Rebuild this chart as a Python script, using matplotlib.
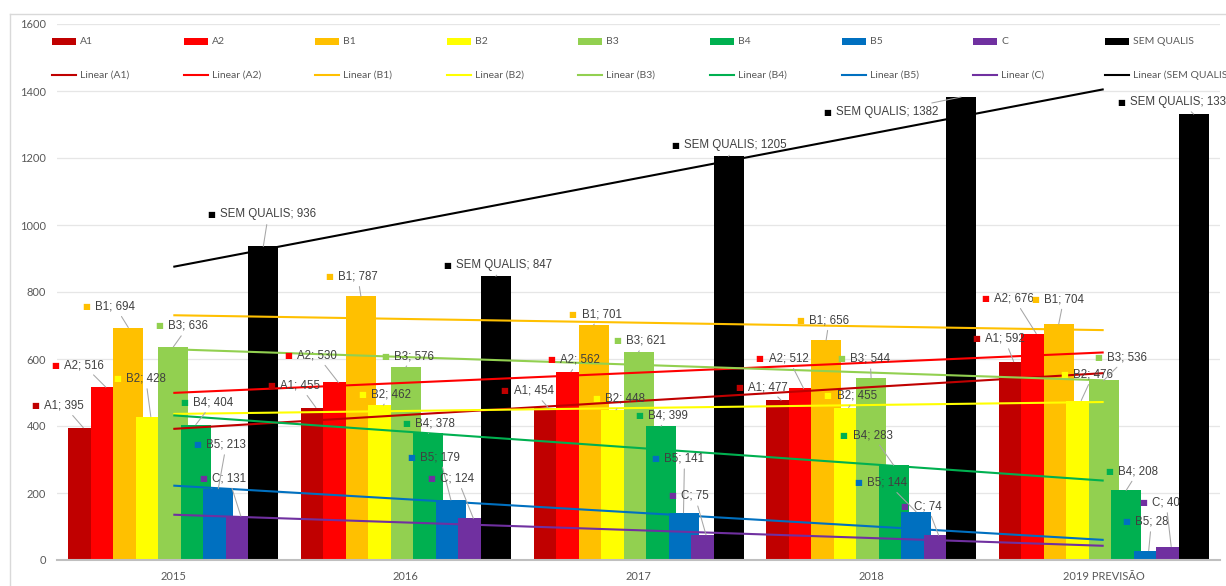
import numpy as np
import matplotlib.pyplot as plt
from matplotlib.patches import Rectangle
from matplotlib.lines import Line2D

W, H = 1226, 586

years = ['2015', '2016', '2017', '2018', '2019 PREVISÃO']
series = ['A1', 'A2', 'B1', 'B2', 'B3', 'B4', 'B5', 'C', 'SEM QUALIS']
colors = ['#C00000', '#FF0000', '#FFC000', '#FFFF00', '#92D050',
          '#00B050', '#0070C0', '#7030A0', '#000000']

a1 = [395, 455, 454, 477, 592]
a2 = [516, 530, 562, 512, 676]
b1 = [694, 787, 701, 656, 704]
b2 = [428, 462, 448, 455, 476]
b3 = [636, 576, 621, 544, 536]
b4 = [404, 378, 399, 283, 208]
b5 = [213, 179, 141, 144, 28]
c = [131, 124, 75, 74, 40]
sem_qualis = [936, 847, 1205, 1382, 1331]
values = [a1, a2, b1, b2, b3, b4, b5, c, sem_qualis]

# label offsets in pixels from bar top (dx right, dy up), per series, per year
label_off = [
    [(-48, 22), (-45, 22), (-44, 17), (-42, 13), (-38, 23)],
    [(-51, 22), (-50, 27), (-20, 12), (-44, 30), (-51, 35)],
    [(-42, 21), (-32, 20), (-21, 11), (-26, 20), (-24, 25)],
    [(-34, 38), (-21, 11), (-20, 11), (-21, 12), (-17, 26)],
    [(-14, 21), (-21, 11), (-21, 11), (-30, 19), (-6, 23)],
    [(-12, 22), (-22, 10), (-22, 11), (-50, 30), (-17, 19)],
    [(-21, 44), (-40, 43), (-28, 54), (-58, 29), (-23, 29)],
    [(-38, 38), (-42, 40), (-34, 39), (-34, 29), (-28, 44)],
    [(-52, 32), (-49, 11), (-53, 11), (-134, -15), (-73, 12)],
]

fig = plt.figure(figsize=(W / 100, H / 100), dpi=100)
ax = fig.add_axes([57 / W, 26 / H, (1220 - 57) / W, 536 / H])

x = np.arange(len(years))
bw = 30 / 232.6
step = 22.5 / 232.6

for i, (name, vals, col) in enumerate(zip(series, values, colors)):
    ax.bar(x + (i - 4) * step, vals, width=bw, color=col, zorder=2 + i * 0.01)

# linear trendlines
for i, (vals, col) in enumerate(zip(values, colors)):
    k, b = np.polyfit(x + 1, vals, 1)
    xs = np.array([0, len(years) - 1])
    ax.plot(xs, k * (xs + 1) + b, color=col, lw=1.5, zorder=3, solid_capstyle='butt')

# data labels
for i, (name, vals, col) in enumerate(zip(series, values, colors)):
    for j, v in enumerate(vals):
        dx, dy = label_off[i][j]
        xy = (x[j] + (i - 4) * step, v)
        ax.annotate('■', xy=xy, xytext=(dx, dy), textcoords='offset pixels',
                    ha='center', va='center', color=col, fontsize=6,
                    family='DejaVu Sans', zorder=5, annotation_clip=False)
        arrow = None
        if np.hypot(dx, dy) > 20:
            arrow = dict(arrowstyle='-', color='#A6A6A6', lw=0.75,
                         shrinkA=1, shrinkB=0)
        ax.annotate(f'{name}; {v}', xy=xy, xytext=(dx + 9, dy),
                    textcoords='offset pixels', ha='left', va='center',
                    color='#404040', fontsize=8.3, family='Liberation Sans',
                    arrowprops=arrow, zorder=5, annotation_clip=False)

ax.set_xlim(-0.5, len(years) - 0.5)
ax.set_ylim(0, 1600)
ax.set_yticks(range(0, 1601, 200))
ax.set_xticks(x)
ax.set_xticklabels(years)
ax.grid(axis='y', color='#E6E6E6', lw=0.9, zorder=0)
ax.set_axisbelow(True)
for s in ['top', 'right', 'left']:
    ax.spines[s].set_visible(False)
ax.spines['bottom'].set_color('#BFBFBF')
ax.spines['bottom'].set_linewidth(1.5)
ax.tick_params(length=0, labelcolor='#595959', labelsize=8, pad=8)
for t in ax.get_xticklabels() + ax.get_yticklabels():
    t.set_family('Lato')

# legend, laid out like the spreadsheet one
for i, (name, col) in enumerate(zip(series, colors)):
    kx = 52 + i * 131.6
    fig.add_artist(Rectangle((kx / W, 1 - 44.5 / H), 24 / W, 7 / H,
                             transform=fig.transFigure, color=col, lw=0))
    fig.text((kx + 28) / W, 1 - 41 / H, name, ha='left', va='center',
             color='#595959', fontsize=7.5, family='Lato')
    fig.add_artist(Line2D([kx / W, (kx + 24) / W], [1 - 75 / H, 1 - 75 / H],
                          transform=fig.transFigure, color=col, lw=1.5))
    fig.text((kx + 28) / W, 1 - 75 / H, f'Linear ({name})', ha='left',
             va='center', color='#595959', fontsize=7.5, family='Lato')

# chart border
fig.add_artist(Line2D([10 / W, 10 / W], [0, 1 - 14 / H], transform=fig.transFigure,
                      color='#D9D9D9', lw=1))
fig.add_artist(Line2D([10 / W, 1], [1 - 14 / H, 1 - 14 / H], transform=fig.transFigure,
                      color='#D9D9D9', lw=1))

fig.savefig('out.png', dpi=100)
